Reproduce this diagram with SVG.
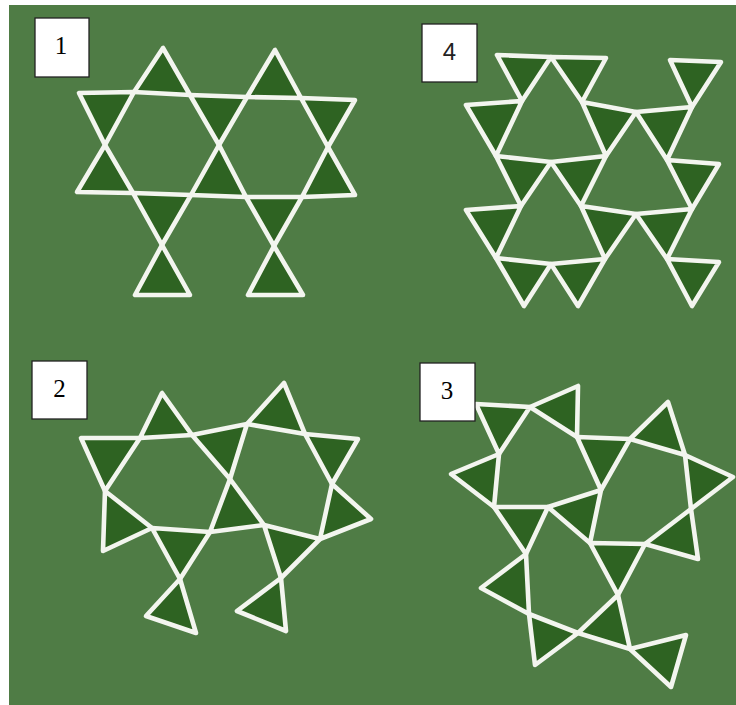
<svg xmlns="http://www.w3.org/2000/svg" width="736" height="705" viewBox="0 0 736 705">
<defs>
<style>
.t{fill:#2f6321;stroke:#f3f5ef;stroke-width:4.6;stroke-linejoin:round}
.lb{fill:#ffffff;stroke:#222222;stroke-width:1.3}
.ser{font-family:"Liberation Serif","Times New Roman",serif;font-size:25px;fill:#000;text-anchor:middle}
.san{font-family:"Liberation Sans",Arial,sans-serif;font-size:24px;fill:#222;text-anchor:middle}
</style>
<filter id="soft" x="-5%" y="-5%" width="110%" height="110%"><feGaussianBlur stdDeviation="0.45"/></filter>
</defs>
<rect x="0" y="0" width="736" height="705" fill="#ffffff"/>
<rect x="9" y="5" width="727" height="700" fill="#4f7c45"/>

<g id="fig1" filter="url(#soft)">
<polygon class="t" points="163,48 134,92 190,95"/>
<polygon class="t" points="275,50 247,97 301,98"/>
<polygon class="t" points="79,93 134,92 105,145"/>
<polygon class="t" points="190,95 247,97 219,145"/>
<polygon class="t" points="301,98 355,100 328,147"/>
<polygon class="t" points="105,145 77,192 133,193"/>
<polygon class="t" points="219,145 191,195 246,197"/>
<polygon class="t" points="328,147 302,197 355,195"/>
<polygon class="t" points="133,193 191,195 162,245"/>
<polygon class="t" points="246,197 302,197 274,246"/>
<polygon class="t" points="162,245 135,295 190,295"/>
<polygon class="t" points="274,246 248,295 303,295"/>
</g>

<g id="fig4" filter="url(#soft)">
<polygon class="t" points="497,55 551,57 522,101"/>
<polygon class="t" points="551,57 606,58 582,102"/>
<polygon class="t" points="670,60 721,62 692,107"/>
<polygon class="t" points="466,105 522,101 496,156"/>
<polygon class="t" points="582,102 636,112 606,156"/>
<polygon class="t" points="636,112 692,107 667,160"/>
<polygon class="t" points="496,156 551,162 521,206"/>
<polygon class="t" points="551,162 606,156 581,206"/>
<polygon class="t" points="667,160 719,164 692,209"/>
<polygon class="t" points="466,210 521,206 496,258"/>
<polygon class="t" points="581,206 636,214 605,259"/>
<polygon class="t" points="636,214 692,209 667,259"/>
<polygon class="t" points="496,258 551,264 524,306"/>
<polygon class="t" points="551,264 605,259 578,306"/>
<polygon class="t" points="667,259 719,262 692,306"/>
</g>

<g id="fig2" filter="url(#soft)">
<polygon class="t" points="162,393 140,438 192,435"/>
<polygon class="t" points="81,438 140,438 105,491"/>
<polygon class="t" points="192,435 247,424 230,479"/>
<polygon class="t" points="284,383 247,424 305,434"/>
<polygon class="t" points="305,434 358,439 332,484"/>
<polygon class="t" points="105,491 103,551 152,528"/>
<polygon class="t" points="230,479 210,532 264,525"/>
<polygon class="t" points="332,484 371,519 320,539"/>
<polygon class="t" points="152,528 210,532 180,579"/>
<polygon class="t" points="264,525 320,539 281,578"/>
<polygon class="t" points="180,579 146,616 196,633"/>
<polygon class="t" points="281,578 237,611 286,631"/>
</g>

<g id="fig3" filter="url(#soft)">
<polygon class="t" points="476,404 530,407 499,454"/>
<polygon class="t" points="530,407 578,386 577,437"/>
<polygon class="t" points="499,454 451,474 494,507"/>
<polygon class="t" points="577,437 630,439 601,490"/>
<polygon class="t" points="630,439 668,402 685,455"/>
<polygon class="t" points="685,455 733,477 691,509"/>
<polygon class="t" points="691,509 698,559 645,544"/>
<polygon class="t" points="548,507 601,490 590,543"/>
<polygon class="t" points="494,507 548,507 526,554"/>
<polygon class="t" points="590,543 645,544 618,595"/>
<polygon class="t" points="526,554 481,588 529,614"/>
<polygon class="t" points="529,614 535,665 578,633"/>
<polygon class="t" points="618,595 578,633 630,649"/>
<polygon class="t" points="630,649 686,635 671,687"/>
</g>

<g id="labels">
<g id="label1"><rect class="lb" x="35" y="18" width="54" height="59"/><text class="ser" x="61" y="54">1</text></g>
<g id="label4"><rect class="lb" x="422" y="24" width="55" height="58"/><text class="san" x="449.5" y="60">4</text></g>
<g id="label2"><rect class="lb" x="32" y="361" width="55" height="58"/><text class="ser" x="59.5" y="397">2</text></g>
<g id="label3"><rect class="lb" x="420" y="363" width="55" height="58"/><text class="ser" x="447" y="399">3</text></g>
</g>
</svg>
